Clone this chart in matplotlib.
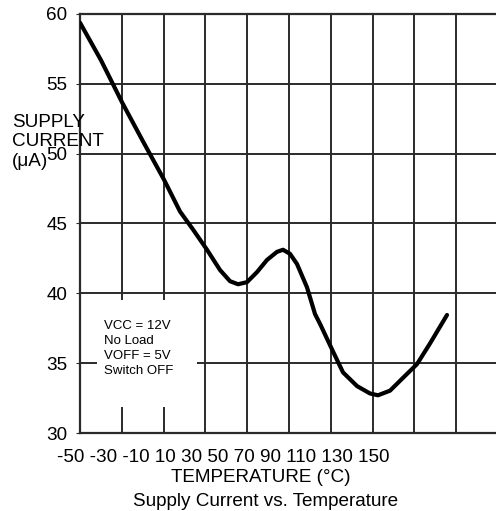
import numpy as np
from matplotlib import pyplot as plt
from matplotlib.patches import Rectangle

plt.rcParams['font.family'] = ['Liberation Sans', 'DejaVu Sans']

# curve: temperature (C) vs supply current (uA)
temp = [-50, -39.95, -29.9, -19.86, -9.81, -2.15, 4.07, 10.77, 16.99, 21.77, 25.6,
        29.9, 34.69, 39.47, 44.26, 47.13, 50.48, 53.83, 58.61, 62.44, 64.83, 70.57,
        75.84, 82.54, 88.76, 92.58, 98.33, 104.55, 111.24, 117.46, 125.6]
current = [59.38, 56.69, 53.68, 50.88, 48.14, 45.86, 44.57, 43.12, 41.67, 40.87, 40.65,
           40.80, 41.52, 42.39, 42.97, 43.12, 42.83, 42.10, 40.43, 38.52, 37.82, 35.99,
           34.34, 33.36, 32.83, 32.70, 33.03, 33.95, 34.93, 36.41, 38.45]

x_ticks = [-50, -30, -10, 10, 30, 50, 70, 90, 110, 130, 150]
y_ticks = [30, 35, 40, 45, 50, 55, 60]
notes = ["VCC = 12V", "No Load", "VOFF = 5V", "Switch OFF"]

W, H = 496, 511
fig = plt.figure(figsize=(W/100, H/100), dpi=100)
ax = fig.add_axes([80/W, 1 - 433/H, 418/W, 419/H])

grid_col = '#2a2a2a'
ax.set_xlim(-50, 150)
ax.set_ylim(30, 60)
ax.set_xticks(x_ticks)
ax.set_yticks(y_ticks)
ax.grid(True, color=grid_col, linewidth=1.4)
ax.set_axisbelow(True)
for s in ax.spines.values():
    s.set_color(grid_col)
    s.set_linewidth(1.6)
ax.spines['right'].set_visible(False)
ax.tick_params(axis='x', length=0, labelbottom=False)
ax.tick_params(axis='y', length=3, color=grid_col, labelsize=13.6, pad=6)

# white patch behind the condition notes
ax.add_patch(Rectangle((97, H - 407), 100, 107, transform=None,
                       facecolor='white', edgecolor='none', zorder=2))

ax.plot(temp, current, color='black', linewidth=3, zorder=3,
        solid_capstyle='round', solid_joinstyle='round')

for i, line in enumerate(notes):
    fig.text(104/W, 1 - (326 + 15*i)/H, line, fontsize=9.5, va='center', ha='left')

fig.text(223/W, 1 - 458/H, " ".join(str(v) for v in x_ticks), fontsize=13.6,
         ha='center', va='center')
fig.text(261/W, 1 - 478/H, "TEMPERATURE (°C)", fontsize=13.6, ha='center', va='center')
fig.text(266/W, 1 - 502/H, "Supply Current vs. Temperature", fontsize=13.6,
         ha='center', va='center')
fig.text(12/W, 1 - 142/H, "SUPPLY\nCURRENT\n(μA)", fontsize=13.6, ha='left',
         va='center', linespacing=1.2)

fig.savefig('out.png', dpi=100)
